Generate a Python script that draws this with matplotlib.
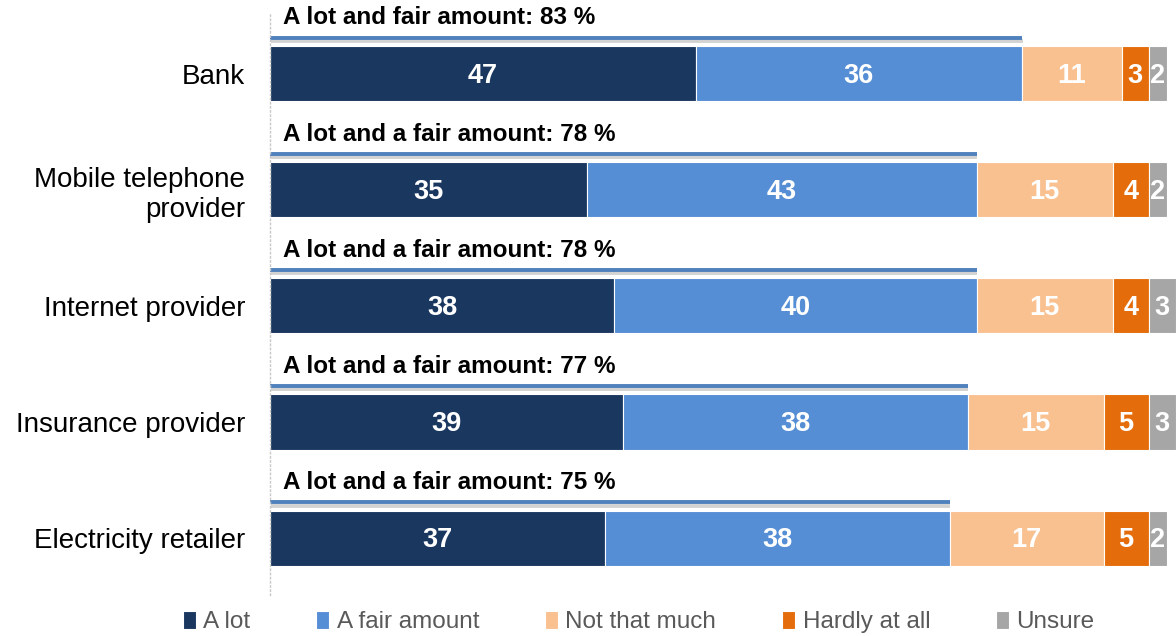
import numpy as np
import matplotlib.pyplot as plt
import matplotlib.patheffects as pe

plt.rcParams['font.family'] = ['Liberation Sans', 'DejaVu Sans']

# Datos de la encuesta (porcentajes)
categorias = ['Bank', 'Mobile telephone\nprovider', 'Internet provider',
              'Insurance provider', 'Electricity retailer']
series = ['A lot', 'A fair amount', 'Not that much', 'Hardly at all', 'Unsure']
a_lot = [47, 35, 38, 39, 37]
fair_amount = [36, 43, 40, 38, 38]
not_much = [11, 15, 15, 15, 17]
hardly = [3, 4, 4, 5, 5]
unsure = [2, 2, 3, 3, 2]
totales = [83, 78, 78, 77, 75]
etiquetas_total = ['A lot and fair amount: {} %'] + ['A lot and a fair amount: {} %'] * 4

colores = ['#1a3760', '#558ed5', '#f9c090', '#e46c0a', '#a6a6a6']
valores = [a_lot, fair_amount, not_much, hardly, unsure]

fig = plt.figure(figsize=(11.76, 6.36), dpi=100)
ax = fig.add_axes([0.2296, 0.0645, 0.7704, 0.9165])

y = np.arange(len(categorias))
izquierda = np.zeros(len(categorias))
for nombre, vals, col in zip(series, valores, colores):
    vals = np.array(vals)
    ax.barh(y, vals, left=izquierda, height=0.475, color=col, label=nombre,
            edgecolor='white', linewidth=0.8)
    for yi, xi, v in zip(y, izquierda, vals):
        ax.text(xi + v / 2, yi + 0.02, str(v), ha='center', va='center',
                color='white', fontsize=19.5, fontweight='bold')
    izquierda += vals

# Linea de "A lot + fair amount" con su etiqueta encima de cada barra
for yi, tot, txt in zip(y, totales, etiquetas_total):
    ax.plot([0, tot], [yi - 0.31, yi - 0.31], color='#4f81bd', linewidth=2.8,
            solid_capstyle='butt',
            path_effects=[pe.SimpleLineShadow(offset=(0.5, -2.5), shadow_color='gray', alpha=0.35),
                          pe.Normal()])
    ax.text(1.4, yi - 0.48, txt.format(tot), ha='left', va='center',
            fontsize=17.5, fontweight='bold', color='black')

ax.set_xlim(0, 100)
ax.set_ylim(4.49, -0.53)
ax.set_yticks(y)
ax.set_yticklabels(categorias, fontsize=20)
ax.tick_params(axis='y', length=0, pad=18)
ax.set_xticks([])
for s in ['top', 'right', 'bottom']:
    ax.spines[s].set_visible(False)
ax.spines['left'].set_linestyle((0, (1, 2)))
ax.spines['left'].set_color('#c8c8c8')
ax.spines['left'].set_linewidth(1)

leg = fig.legend(loc='center', bbox_to_anchor=(0.543, 0.022), ncol=5,
                 frameon=False, fontsize=17.5, handlelength=0.55, handleheight=0.75,
                 handletextpad=0.3, columnspacing=2.7)
for t in leg.get_texts():
    t.set_color('#595959')

plt.savefig('out.png', dpi=100)
